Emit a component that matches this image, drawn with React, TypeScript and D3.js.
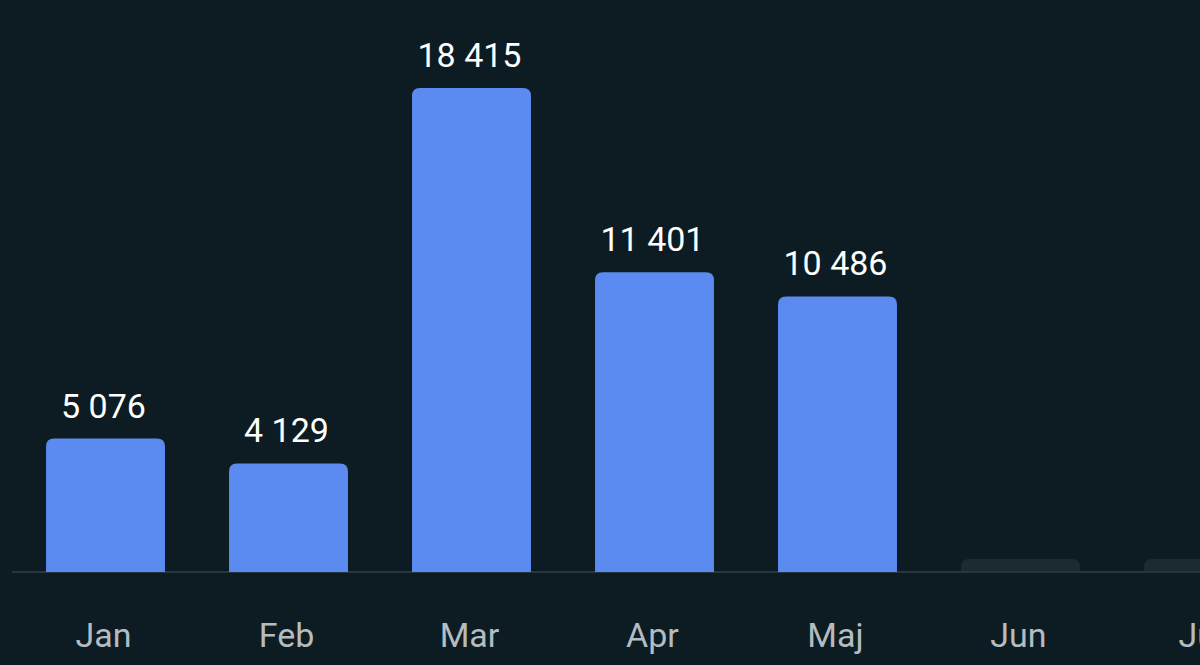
import React, { useEffect, useRef } from "react";
import * as d3 from "d3";

const months = ["Jan", "Feb", "Mar", "Apr", "Maj", "Jun", "Jul"];
const values: (number | null)[] = [5076, 4129, 18415, 11401, 10486, null, null];

const width = 1200;
const height = 665;

// "18 415" style thousands separator
const fmt = (v: number) => d3.format(",")(v).replace(/,/g, " ");

const App: React.FC = () => {
  const ref = useRef<SVGSVGElement | null>(null);

  useEffect(() => {
    document.body.style.margin = "0";
    document.body.style.background = "#0c1c22";

    const svg = d3.select(ref.current);
    svg.selectAll("*").remove();

    const baseline = 572;
    const radius = 8;

    const x = d3
      .scaleBand<string>()
      .domain(months)
      .range([14, 14 + 7 * 183])
      .paddingInner(0.35)
      .paddingOuter(0.175);

    const y = d3.scaleLinear().domain([0, 18415]).range([baseline, 88]);

    svg
      .append("rect")
      .attr("width", width)
      .attr("height", height)
      .attr("fill", "#0c1c22");

    // rounded-top bar path
    const barPath = (x0: number, top: number, w: number, bottom: number) => {
      const r = Math.min(radius, bottom - top);
      return `M${x0},${bottom}V${top + r}Q${x0},${top} ${x0 + r},${top}H${x0 + w - r}Q${x0 + w},${top} ${x0 + w},${top + r}V${bottom}Z`;
    };

    svg
      .append("line")
      .attr("x1", 12)
      .attr("x2", width)
      .attr("y1", baseline)
      .attr("y2", baseline)
      .attr("stroke", "#26363c")
      .attr("stroke-width", 2);

    const g = svg.append("g");

    months.forEach((m, i) => {
      const v = values[i];
      const bx = x(m) ?? 0;
      const bw = x.bandwidth();
      if (v == null) {
        // empty month placeholder
        g.append("path")
          .attr("d", barPath(bx, baseline - 13, bw, baseline - 1))
          .attr("fill", "#1a2c32");
        return;
      }
      g.append("path")
        .attr("d", barPath(bx, y(v), bw, baseline))
        .attr("fill", "#5b8af0");
      g.append("text")
        .attr("x", bx + bw / 2 - 2)
        .attr("y", y(v) - 21)
        .attr("text-anchor", "middle")
        .attr("fill", "#ffffff")
        .attr("font-family", "Roboto, sans-serif")
        .attr("font-size", 34)
        .text(fmt(v));
    });

    svg
      .append("g")
      .selectAll("text")
      .data(months)
      .join("text")
      .attr("x", (d) => (x(d) ?? 0) + x.bandwidth() / 2 - 2)
      .attr("y", 647)
      .attr("text-anchor", "middle")
      .attr("fill", "#b4bcc0")
      .attr("font-family", "Roboto, sans-serif")
      .attr("font-size", 34)
      .text((d) => d);
  }, []);

  return <svg ref={ref} width={width} height={height} style={{ display: "block" }} />;
};

export default App;
